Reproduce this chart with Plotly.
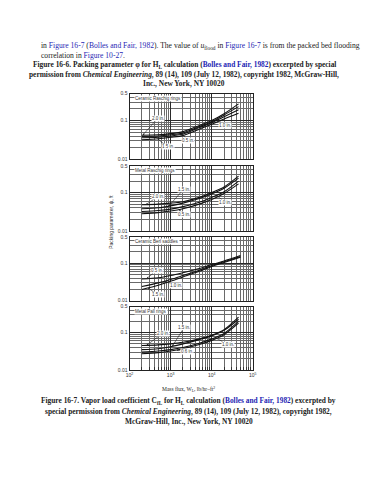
import numpy as np
import plotly.graph_objects as go

# ---------------- data ----------------
mass_flux = [200, 500, 1000, 2000, 5000, 10000, 20000, 45000]
mass_flux_berl = [200, 500, 1000, 2000, 5000, 10000, 20000, 50000]

# Ceramic Raschig rings
cr_20 = [0.042, 0.043, 0.046, 0.052, 0.075, 0.100, 0.150, 0.270]
cr_10 = [0.039, 0.040, 0.043, 0.048, 0.070, 0.094, 0.140, 0.230]
cr_05 = [0.036, 0.037, 0.040, 0.045, 0.066, 0.088, 0.125, 0.190]
cr_15 = [0.032, 0.034, 0.037, 0.041, 0.060, 0.080, 0.110, 0.155]
# Metal Raschig rings
mr_20 = [0.048, 0.050, 0.053, 0.058, 0.075, 0.100, 0.140, 0.270]
mr_15 = [0.038, 0.040, 0.045, 0.053, 0.070, 0.092, 0.130, 0.240]
mr_10 = [0.032, 0.034, 0.037, 0.043, 0.056, 0.075, 0.105, 0.200]
mr_05 = [0.028, 0.030, 0.033, 0.038, 0.050, 0.066, 0.095, 0.170]
# Ceramic Berl saddles
cb_05 = [0.038, 0.041, 0.047, 0.056, 0.072, 0.092, 0.115, 0.160]
cb_10 = [0.024, 0.030, 0.037, 0.047, 0.065, 0.086, 0.110, 0.150]
cb_15 = [0.020, 0.026, 0.033, 0.043, 0.061, 0.082, 0.105, 0.145]
# Metal Pall rings
mp_20 = [0.045, 0.047, 0.050, 0.055, 0.068, 0.085, 0.120, 0.260]
mp_15 = [0.035, 0.037, 0.042, 0.050, 0.065, 0.082, 0.115, 0.230]
mp_10 = [0.030, 0.032, 0.035, 0.040, 0.052, 0.068, 0.095, 0.200]
mp_06 = [0.027, 0.029, 0.032, 0.037, 0.048, 0.062, 0.088, 0.180]

panel_titles = ["Ceramic Raschig rings", "Metal Raschig rings",
                "Ceramic Berl saddles", "Metal Pall rings"]
x_tick_vals = [100, 1000, 10000, 100000]
x_tick_text = ["10<sup>2</sup>", "10<sup>3</sup>", "10<sup>4</sup>", "10<sup>5</sup>"]
y_tick_vals = [0.01, 0.1, 0.5]
y_tick_text = ["0.01", "0.1", "0.5"]

panels = [
    (mass_flux, [("2.0 in.", cr_20), ("1.0 in.", cr_10), ("0.5 in.", cr_05), ("1.5 in.", cr_15)]),
    (mass_flux, [("2.0 in.", mr_20), ("1.5 in.", mr_15), ("1.0 in.", mr_10), ("0.5 in.", mr_05)]),
    (mass_flux_berl, [("0.5 in.", cb_05), ("1.0 in.", cb_10), ("1.5 in.", cb_15)]),
    (mass_flux, [("2.0 in.", mp_20), ("1.5 in.", mp_15), ("1.0 in.", mp_10), ("0.6 in.", mp_06)]),
]
# label: (panel, series name, x of arrow tip, text offset px dx, dy)
curve_labels = [
    (0, "2.0 in.", 210, 15, -17), (0, "1.5 in.", 480, 10, 8),
    (0, "0.5 in.", 1900, 6, 6), (0, "1.0 in.", 13000, 9, 6),
    (1, "2.0 in.", 250, 12, -8), (1, "1.5 in.", 900, 15, -17),
    (1, "0.5 in.", 1600, 5, 5), (1, "1.0 in.", 13000, 9, 7),
    (2, "0.5 in.", 260, 10, -8), (2, "1.0 in.", 700, 12, 4),
    (2, "1.5 in.", 280, 10, 7),
    (3, "2.0 in.", 260, 16, -12), (3, "1.5 in.", 1100, 12, -19),
    (3, "1.0 in.", 12000, 13, 7), (3, "0.6 in.", 1400, 10, 2),
]

W, H = 368, 480
# pixel geometry of panels
x_px = (128.3, 254.3)
y_px = [(91.7, 158.3), (165.0, 230.7), (237.0, 301.5), (307.5, 371.5)]

minor_x = [m * 10 ** d for d in (2, 3, 4) for m in range(2, 10)]
minor_y = [m * 0.01 for m in range(2, 10)] + [0.2, 0.3, 0.4]

fig = go.Figure()
layout = dict(width=W, height=H, margin=dict(l=0, r=0, t=0, b=0),
              paper_bgcolor="white", plot_bgcolor="white", showlegend=False)
annotations = []
xd = [x_px[0] / W, x_px[1] / W]

for i, (xs, series) in enumerate(panels):
    n = "" if i == 0 else str(i + 1)
    top, bot = y_px[i]
    yd = [1 - bot / H, 1 - top / H]
    last = i == 3
    layout["xaxis" + n] = dict(
        type="log", range=[2, 5], domain=xd, anchor="y" + n,
        tickvals=x_tick_vals, ticktext=x_tick_text,
        showticklabels=last, ticks="", tickfont=dict(family="Liberation Sans", size=5, color="#333"),
        showgrid=True, gridcolor="#2a2a2a", gridwidth=0.9,
        minor=dict(tickvals=minor_x, showgrid=True, gridcolor="#6a6a6a", gridwidth=0.6,
                   ticks="inside" if last else "", ticklen=3, tickcolor="#333"),
        showline=True, linecolor="#222", linewidth=1, mirror=True, zeroline=False)
    layout["yaxis" + n] = dict(
        type="log", range=[-2, np.log10(0.5)], domain=yd, anchor="x" + n,
        tickvals=y_tick_vals, ticktext=y_tick_text, ticks="",
        tickfont=dict(family="Liberation Sans", size=5, color="#333"),
        showgrid=True, gridcolor="#2a2a2a", gridwidth=0.9,
        minor=dict(tickvals=minor_y, showgrid=True, gridcolor="#6a6a6a", gridwidth=0.6),
        showline=True, linecolor="#222", linewidth=1, mirror=True, zeroline=False)
    for name, ys in series:
        fig.add_trace(go.Scatter(x=xs, y=ys, mode="lines", name=name,
                                 line=dict(color="#111", width=1.1, shape="spline", smoothing=0.8),
                                 xaxis="x" + n, yaxis="y" + n, hoverinfo="skip"))
    annotations.append(dict(xref="x" + n + " domain", yref="y" + n + " domain", x=0.04, y=0.93,
                            xanchor="left", yanchor="middle", text=panel_titles[i], showarrow=False,
                            bgcolor="white", borderpad=0,
                            font=dict(family="Liberation Sans", size=4.5, color="#333")))

for p, name, xt, dx, dy in curve_labels:
    xs, series = panels[p]
    ys = dict(series)[name]
    yt = np.interp(np.log10(xt), np.log10(xs), np.log10(ys))
    n = "" if p == 0 else str(p + 1)
    annotations.append(dict(xref="x" + n, yref="y" + n, x=np.log10(xt), y=yt,
                            ax=dx, ay=dy, showarrow=True, arrowhead=2, arrowsize=0.6,
                            arrowwidth=0.6, arrowcolor="#222", text=name, bgcolor="white",
                            borderpad=0, font=dict(family="Liberation Sans", size=4.5, color="#333")))

link = "color:#1f1fb4"
serif = "Liberation Serif"


def add_text(x, y, text, size=7.5, anchor="left", bold=False, angle=0, family=serif, color="#222"):
    annotations.append(dict(xref="paper", yref="paper", x=x / W, y=1 - y / H, text=text,
                            showarrow=False, xanchor=anchor, yanchor="middle", textangle=angle,
                            borderpad=0, font=dict(family=family, size=size, color=color)))


add_text(37, 44, "in <span style='" + link + "'>Figure 16-7</span> (<span style='" + link +
         "'>Bolles and Fair, 1982</span>). The value of <i>u</i><sub>flood</sub> in "
         "<span style='" + link + "'>Figure 16-7</span> is from the packed bed flooding", size=7.6)
add_text(37, 53, "correlation in <span style='" + link + "'>Figure 10-27</span>.", size=7.6)
add_text(184, 63, "<b>Figure 16-6. Packing parameter φ for H<sub>L</sub> calculation (<span style='" + link +
         "'>Bolles and Fair, 1982</span>) excerpted by special</b>", anchor="center", size=7.4)
add_text(184, 72.5, "<b>permission from <i>Chemical Engineering</i>, 89 (14), 109 (July 12, 1982), "
         "copyright 1982, McGraw-Hill,</b>", anchor="center", size=7.4)
add_text(184, 82, "<b>Inc., New York, NY 10020</b>", anchor="center", size=7.4)

add_text(110, 222, "Packing parameter, ψ, ft", size=5, anchor="center", angle=-90,
         family="Liberation Sans", color="#333")
add_text(189, 391, "Mass flux, W<sub>L</sub>, lb/hr–ft<sup>2</sup>", size=5.5, anchor="center")
add_text(189, 403, "<b>Figure 16-7. Vapor load coefficient C<sub>fL</sub> for H<sub>L</sub> calculation (<span style='" +
         link + "'>Bolles and Fair, 1982</span>) excerpted by</b>", anchor="center", size=7.4)
add_text(189, 413.5, "<b>special permission from <i>Chemical Engineering</i>, 89 (14), 109 (July 12, 1982), "
         "copyright 1982,</b>", anchor="center", size=7.4)
add_text(189, 424, "<b>McGraw-Hill, Inc., New York, NY 10020</b>", anchor="center", size=7.4)

layout["annotations"] = annotations
fig.update_layout(**layout)
fig.write_html("out.html", config={"displayModeBar": False},
               post_script="document.body.style.margin='0px';")
